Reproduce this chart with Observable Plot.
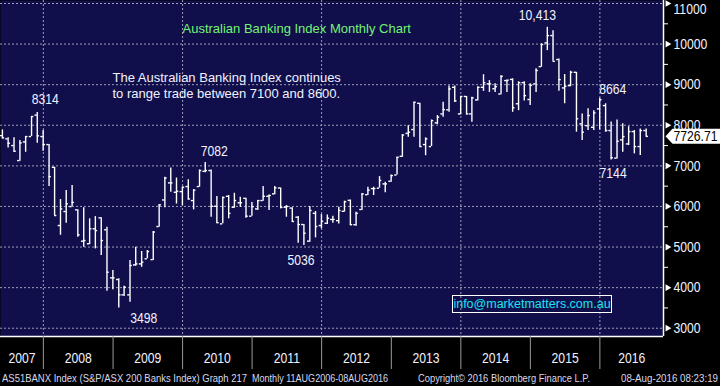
<!DOCTYPE html>
<html><head><meta charset="utf-8">
<script src="https://cdn.jsdelivr.net/npm/d3@7"></script>
<script src="https://cdn.jsdelivr.net/npm/@observablehq/plot@0.6"></script>
<style>
body{margin:0;background:#000;}
#wrap{position:relative;width:720px;height:386px;background:#000;overflow:hidden;font-family:"Liberation Sans",Arial,sans-serif;}
#chart svg{display:block}
.foot{position:absolute;top:372px;font-family:"Liberation Sans",Arial,sans-serif;font-size:11px;line-height:12px;color:#d8d8ee;white-space:nowrap;transform-origin:0 50%}
#email{position:absolute;left:452px;top:295px;width:160px;height:18px;border:1px solid #fff;box-sizing:border-box;color:#1ee3f2;font-size:12.5px;line-height:16px;text-align:center}
</style></head><body>
<div id="wrap">
<div id="chart"></div>
<div id="email">info@marketmatters.com.au</div>
<div class="foot" data-w="245" style="left:2px">AS51BANX Index (S&amp;P/ASX 200 Banks Index) Graph 217</div>
<div class="foot" data-w="136" style="left:252px">Monthly 11AUG2006-08AUG2016</div>
<div class="foot" data-w="172" style="left:418px">Copyright© 2016 Bloomberg Finance L.P.</div>
<div class="foot" data-w="97" style="left:621px">08-Aug-2016 08:23:19</div>
</div>
<script>
const months = [
"2007-05","2007-06","2007-07","2007-08","2007-09","2007-10","2007-11","2007-12",
"2008-01","2008-02","2008-03","2008-04","2008-05","2008-06","2008-07","2008-08","2008-09","2008-10","2008-11","2008-12",
"2009-01","2009-02","2009-03","2009-04","2009-05","2009-06","2009-07","2009-08","2009-09","2009-10","2009-11","2009-12",
"2010-01","2010-02","2010-03","2010-04","2010-05","2010-06","2010-07","2010-08","2010-09","2010-10","2010-11","2010-12",
"2011-01","2011-02","2011-03","2011-04","2011-05","2011-06","2011-07","2011-08","2011-09","2011-10","2011-11","2011-12",
"2012-01","2012-02","2012-03","2012-04","2012-05","2012-06","2012-07","2012-08","2012-09","2012-10","2012-11","2012-12",
"2013-01","2013-02","2013-03","2013-04","2013-05","2013-06","2013-07","2013-08","2013-09","2013-10","2013-11","2013-12",
"2014-01","2014-02","2014-03","2014-04","2014-05","2014-06","2014-07","2014-08","2014-09","2014-10","2014-11","2014-12",
"2015-01","2015-02","2015-03","2015-04","2015-05","2015-06","2015-07","2015-08","2015-09","2015-10","2015-11","2015-12",
"2016-01","2016-02","2016-03","2016-04","2016-05","2016-06","2016-07","2016-08"];
const opens = [
7746,7665,7500,7130,7590,7722,8250,7722,
7525,6965,5530,5875,5997,5916,5145,5080,5450,5720,5425,4240,
4200,3822,3822,4560,4585,4710,4690,5505,6160,6580,6350,6365,
6490,6145,6490,6865,6885,6005,5571,6250,5980,6090,6200,5760,
5940,6145,6250,6310,6455,5980,5960,5735,5555,5145,5830,5530,
5585,5680,5650,5880,6150,5550,5925,6290,6440,6450,6555,6620,
6775,7235,7800,7895,8540,7525,7475,8060,8280,8380,8935,8280,
8710,8280,8625,8935,9020,8900,8770,9100,9130,8530,9050,8635,
9020,9445,10030,10210,9620,8920,8975,9305,8035,7990,7950,8405,
8485,7870,7190,7640,7540,7845,7475,7870];
const highs = [
7887,7690,7690,7623,7722,8215,8314,7870,
7525,6965,6170,6390,6515,5916,5965,5695,5750,5720,5490,4420,
4217,4034,4667,4995,4890,4915,5380,6040,6720,6950,6700,6475,
6655,6415,6900,7082,6900,6245,6230,6270,6325,6225,6200,6100,
6145,6490,6285,6490,6455,6020,5965,5750,5555,6000,5875,5800,
5790,5760,5980,6130,6160,5860,6310,6475,6475,6735,6595,6775,
7210,7770,7990,8570,8540,7690,8130,8240,8565,8970,8970,8710,
8710,8690,8945,9245,9100,9020,9220,9110,9145,9070,9070,9020,
9390,10005,10413,10330,9635,9250,9330,9305,8280,8405,8360,8664,
8530,8080,8130,8035,7965,7870,7910,7910];
const lows = [
7665,7443,7335,7113,7335,7722,7560,7360,
6490,5776,5290,5586,5997,5240,4995,5060,4955,4790,3910,3950,
3498,3780,3640,4527,4500,4710,4667,5490,5965,6350,6060,6020,
6160,5915,6475,6830,5735,5580,5571,5695,5955,5980,5710,5760,
5900,6130,5900,6290,5940,5735,5610,5095,5036,5120,5225,5450,
5555,5585,5570,5860,5530,5510,5900,6270,6270,6450,6335,6595,
6775,7210,7705,7705,7460,7250,7475,8015,8200,8320,8560,8255,
8255,8075,8600,8835,8810,8810,8750,8810,8320,8360,8600,8485,
8810,9430,9840,9575,8840,8530,8950,7830,7625,7870,7870,7885,
7830,7144,7170,7335,7500,7295,7255,7720];
const closes = [
7690,7557,7360,7566,7722,8215,7740,7525,
6735,5776,5940,6064,6100,5300,5160,5450,5405,5160,4380,4240,
3822,4010,4545,4585,4625,4890,5370,6040,6700,6580,6375,6475,
6185,6400,6885,6885,6005,5600,6220,5830,6145,6090,5760,5995,
6145,6250,6270,6455,5980,6000,5630,5555,5340,5900,5505,5635,
5710,5680,5900,6115,5550,5830,6310,6400,6440,6640,6555,6760,
7210,7760,7830,8565,7475,7665,8115,8200,8385,8895,8600,8710,
8280,8675,8935,9050,9020,8950,9205,9110,8430,9050,8730,8985,
9350,9990,10210,9575,9125,8960,9305,8160,7830,8240,8305,8630,
7870,7200,7605,7720,7845,7475,7870,7726.71];

const yTicks = [3000,4000,5000,6000,7000,8000,9000,10000,11000];
const yMinorTicks = [3500,4500,5500,6500,7500,8500,9500,10500];
const yearLabels = ["2007","2008","2009","2010","2011","2012","2013","2014","2015","2016"];
const gridYears = ["2008","2010","2012","2014","2016"];
const annoText = ["8314","7082","3498","5036","10,413","8664","7144"];
const annoMonth = ["2007-11","2010-04","2009-01","2011-09","2015-03","2015-12","2016-02"];
const annoField = ["high","high","low","low","high","high","low"];
const title = "Australian Banking Index Monthly Chart";
const comment = "The Australian Banking Index continues\nto range trade between 7100 and 8600.";

// layout / style (not data)
const annoOffset = [[8,-13],[9,-11],[25,10],[-3,15],[-10,-12],[13,-9],[2,13]];
const xDomain = [new Date("2007-05-21"), new Date("2016-11-30")];
const yDomain = [2796, 11074];
const NAVY = "#100f4b", GRID = "#9d9db4", TXT = "#f2f2ff";
const NUMFONT = "Liberation Sans, Arial, sans-serif";
const TEXTFONT = "Arial, Liberation Sans, sans-serif";
const NARROW = 0.84;

const monthEnd = s => { const [y, m] = s.split("-").map(Number); return new Date(Date.UTC(y, m, 0)); };
const shift = (d, days) => new Date(+d + days * 864e5);
const bars = months.map((m, i) => ({date: monthEnd(m), open: opens[i], high: highs[i], low: lows[i], close: closes[i]}));
const byMonth = new Map(months.map((m, i) => [m, bars[i]]));
const last = bars[bars.length - 1];
const yearStart = y => new Date(Date.UTC(+y, 0, 1));
const yearMid = yearLabels.map(y => {
  const lo = Math.max(+yearStart(y), +xDomain[0]);
  const hi = Math.min(+yearStart(+y + 1), +xDomain[1]);
  return {label: y, date: new Date((lo + hi) / 2)};
});
const yearBounds = yearLabels.slice(1).map(yearStart);

const boxSymbol = {draw(ctx) {
  ctx.moveTo(0, 0); ctx.lineTo(7, -7.5); ctx.lineTo(60, -7.5); ctx.lineTo(60, 7.5); ctx.lineTo(7, 7.5); ctx.closePath();
}};

const annoMarks = annoText.map((t, i) => {
  const b = byMonth.get(annoMonth[i]);
  return Plot.text([b], {x: "date", y: annoField[i], text: () => t, dx: annoOffset[i][0], dy: annoOffset[i][1],
    fill: TXT, fontSize: 14.5});
});

const chart = Plot.plot({
  width: 720, height: 370,
  marginLeft: 0, marginRight: 57, marginTop: 0, marginBottom: 34,
  style: {background: "transparent", color: TXT, fontFamily: NUMFONT, fontSize: "14.5px", overflow: "visible"},
  x: {type: "utc", domain: xDomain},
  y: {domain: yDomain},
  marks: [
    Plot.frame({fill: NAVY, stroke: null}),
    Plot.ruleY(yTicks, {stroke: GRID, strokeDasharray: "2,2", strokeWidth: 1}),
    Plot.ruleX(gridYears.map(yearStart), {stroke: GRID, strokeDasharray: "2,2", strokeWidth: 1}),
    Plot.ruleX(bars, {x: "date", y1: "low", y2: "high", stroke: "#fff", strokeWidth: 1.4}),
    Plot.ruleY(bars, {y: "open", x1: d => shift(d.date, -12), x2: "date", stroke: "#fff", strokeWidth: 1.4}),
    Plot.ruleY(bars, {y: "close", x1: "date", x2: d => shift(d.date, 12), stroke: "#fff", strokeWidth: 1.4}),
    Plot.ruleX([xDomain[1]], {stroke: "#fff", strokeWidth: 1.5}),
    Plot.ruleY([yDomain[0]], {stroke: "#fff", strokeWidth: 1.5}),
    Plot.axisY(yMinorTicks, {anchor: "right", tickSize: 4, tickFormat: () => "", stroke: "#fff", label: null}),
    Plot.axisY(yTicks.slice(0, -1), {anchor: "right", tickSize: 0, tickPadding: 10, tickFormat: d => String(d), fill: TXT, label: null, fontSize: 14.5}),
    Plot.text(yTicks.slice(-1), {y: d => d, text: d => String(d), frameAnchor: "right", dx: 10, dy: 6, textAnchor: "start", fill: TXT}),
    Plot.dot(yTicks, {y: d => d, frameAnchor: "right", dx: 4, symbol: "triangle2", rotate: 90, r: 3.2, fill: "#fff", stroke: null}),
    Plot.axisX(yearBounds, {anchor: "bottom", tickSize: 33, tickFormat: () => "", stroke: "#9a9a9a", label: null}),
    Plot.text(yearMid, {x: "date", text: "label", frameAnchor: "bottom", dy: 26, fill: TXT, fontSize: 14.5}),
    ...annoMarks,
    Plot.text([title], {text: d => d, frameAnchor: "top-left", dx: 182, dy: 28, textAnchor: "start", lineAnchor: "middle",
      fill: "#74f274", fontSize: 13, fontFamily: TEXTFONT}),
    Plot.text([comment], {text: d => d, frameAnchor: "top-left", dx: 112, dy: 70, textAnchor: "start", lineAnchor: "top",
      lineHeight: 1.23, fill: TXT, fontSize: 13, fontFamily: TEXTFONT}),
    Plot.dot([last], {y: "close", frameAnchor: "right", dx: 2, r: 4, symbol: boxSymbol, fill: "#fff", stroke: null}),
    Plot.text([last], {y: "close", text: d => d.close.toFixed(2), frameAnchor: "right", dx: 10, textAnchor: "start", fill: "#000", fontSize: 14.5})
  ]
});
document.getElementById("chart").appendChild(chart);

// condense the numeric labels horizontally (Bloomberg's narrow font)
chart.querySelectorAll("text").forEach(t => {
  const g = t.closest("g[font-family]");
  if (g && g.getAttribute("font-family") === TEXTFONT) return;
  const ax = +(t.getAttribute("x") || 0);
  const tr = t.getAttribute("transform") || "";
  t.setAttribute("transform", `${tr} translate(${ax},0) scale(${NARROW},1) translate(${-ax},0)`);
});
// fit footer segments to their widths
document.querySelectorAll(".foot").forEach(el => {
  const w = el.getBoundingClientRect().width;
  el.style.transform = `scaleX(${(+el.dataset.w / w).toFixed(3)})`;
});
</script>
</body></html>
